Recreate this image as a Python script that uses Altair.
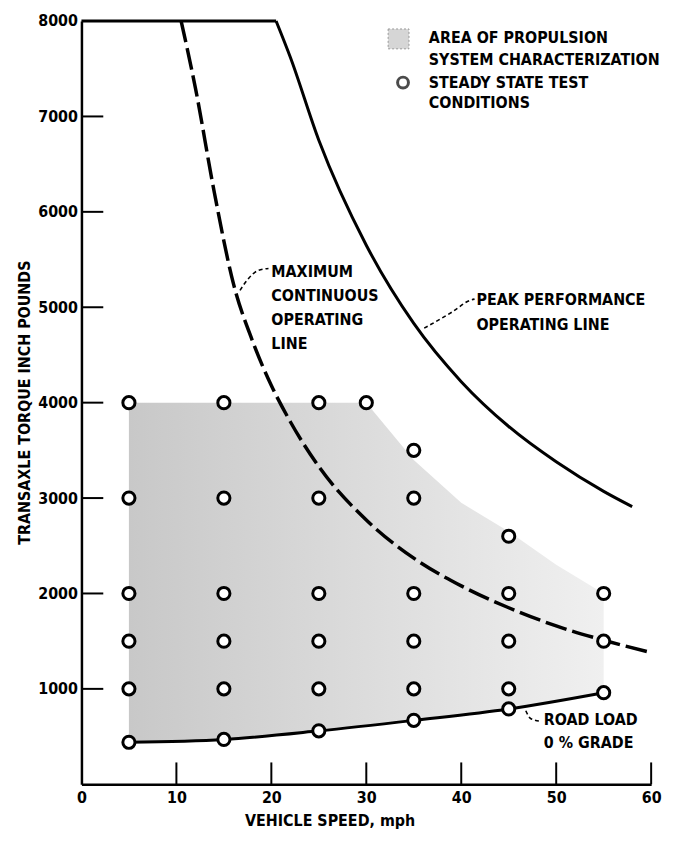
import altair as alt
import pandas as pd

FONT = "DejaVu Sans Condensed, Liberation Sans Narrow, DejaVu Sans, sans-serif"

# ---- data ----
peak_flat_speed = [0, 20.5]
peak_flat_torque = [8000, 8000]
peak_speed = [20.5, 22, 25, 30, 35, 40, 45, 50, 55, 58]
peak_torque = [8000, 7620, 6750, 5650, 4830, 4220, 3750, 3380, 3070, 2910]

cont_speed = [10.5, 12, 14, 16, 18, 20, 22, 25, 30, 35, 40, 45, 50, 55, 60]
cont_torque = [8000, 7300, 6200, 5250, 4650, 4180, 3800, 3330, 2770, 2370, 2080, 1850, 1660, 1510, 1380]

road_speed = [5, 15, 25, 35, 45, 55]
road_torque = [440, 470, 560, 670, 790, 960]

test_speed = [5, 5, 5, 5, 5,
              15, 15, 15, 15, 15,
              25, 25, 25, 25, 25,
              30,
              35, 35, 35, 35, 35,
              45, 45, 45, 45,
              55, 55]
test_torque = [4000, 3000, 2000, 1500, 1000,
               4000, 3000, 2000, 1500, 1000,
               4000, 3000, 2000, 1500, 1000,
               4000,
               3500, 3000, 2000, 1500, 1000,
               2600, 2000, 1500, 1000,
               2000, 1500]

area_speed = [5, 15, 25, 30, 35, 40, 45, 50, 55]
area_upper = [4000, 4000, 4000, 4000, 3400, 2950, 2650, 2300, 2000]
area_lower = [440, 470, 560, 615, 670, 730, 790, 875, 960]

x_ticks = [0, 10, 20, 30, 40, 50, 60]
y_ticks = [1000, 2000, 3000, 4000, 5000, 6000, 7000, 8000]

# annotation labels (anchor in data units)
max_lines = ["MAXIMUM", "CONTINUOUS", "OPERATING", "LINE"]
max_x = 20.0
max_y = [5365, 5115, 4865, 4615]
peak_lines = ["PEAK PERFORMANCE", "OPERATING LINE"]
peak_x = 41.6
peak_y = [5073, 4813]
road_lines = ["ROAD LOAD", "0 % GRADE"]
road_x = 48.7
road_y = [677, 437]

# leader lines
lead_group = ["m", "m", "m", "m", "p", "p", "p", "p", "r", "r", "r"]
lead_x = [16.7, 17.6, 18.6, 19.7, 36.1, 39.0, 41.0, 41.4, 46.8, 47.3, 48.4]
lead_y = [5177, 5302, 5385, 5406, 4781, 4948, 5075, 5085, 771, 690, 660]

legend_text = ["AREA OF PROPULSION", "SYSTEM CHARACTERIZATION", "STEADY STATE TEST", "CONDITIONS"]

W, H = 574, 769
FS = 16
xs = alt.Scale(domain=[0, 60], nice=False)
ys = alt.Scale(domain=[0, 8000], nice=False)

X = lambda f: alt.X(f, type="quantitative", scale=xs,
                    axis=alt.Axis(values=x_ticks, ticks=False, grid=False, domainWidth=2.5,
                                  domainColor="black", labelFont=FONT, labelFontSize=FS,
                                  labelFontWeight="bold", labelColor="black", labelPadding=5,
                                  format="d",
                                  title="VEHICLE SPEED, mph", titleFont=FONT, titleFontSize=FS,
                                  titleFontWeight="bold", titleColor="black", titleX=250, titleY=37,
                                  titleBaseline="middle", titleAlign="center", labelFlush=False))
Y = lambda f: alt.Y(f, type="quantitative", scale=ys,
                    axis=alt.Axis(values=y_ticks, ticks=False, grid=False, domainWidth=2.5,
                                  domainColor="black", labelFont=FONT, labelFontSize=FS,
                                  labelFontWeight="bold", labelColor="black", labelPadding=4,
                                  format="d",
                                  title="TRANSAXLE TORQUE INCH POUNDS", titleFont=FONT, titleFontSize=FS,
                                  titleFontWeight="bold", titleColor="black", titleX=-57, titleY=384,
                                  titleAngle=-90, titleBaseline="middle", titleAlign="center",
                                  labelFlush=False))

area_df = pd.DataFrame({"s": area_speed, "lo": area_lower, "hi": area_upper})
grad = alt.Gradient(gradient="linear",
                    stops=[alt.GradientStop(offset=0, color="#c8c8c8"),
                           alt.GradientStop(offset=1, color="#f0f0f0")],
                    x1=0, x2=1, y1=0, y2=0)
area = alt.Chart(area_df).mark_area(color=grad, interpolate="linear").encode(
    x=X("s"), y=Y("lo"), y2="hi")

peak_df = pd.DataFrame({
    "s": peak_flat_speed + peak_speed,
    "t": peak_flat_torque + peak_torque,
    "seg": ["flat"] * len(peak_flat_speed) + ["curve"] * len(peak_speed),
})
peak = alt.Chart(peak_df).mark_line(
    color="black", strokeWidth=3, interpolate="monotone").encode(x=X("s"), y=Y("t"), detail="seg:N")

cont = alt.Chart(pd.DataFrame({"s": cont_speed, "t": cont_torque})).mark_line(
    color="black", strokeWidth=3.5, strokeDash=[22, 6], interpolate="monotone").encode(x=X("s"), y=Y("t"))

road = alt.Chart(pd.DataFrame({"s": road_speed, "t": road_torque})).mark_line(
    color="black", strokeWidth=3, interpolate="monotone").encode(x=X("s"), y=Y("t"))

pts_df = pd.DataFrame({"s": test_speed + road_speed, "t": test_torque + road_torque})
pts = alt.Chart(pts_df).mark_point(shape="circle", size=150, filled=False, fill="white",
                                   fillOpacity=1, stroke="black", strokeWidth=3, opacity=1).encode(
    x=X("s"), y=Y("t"))

ytick_df = pd.DataFrame({"t": y_ticks[:-1]})
yt = alt.Chart(ytick_df).mark_rule(color="black", strokeWidth=2).encode(
    y=Y("t"), x=alt.value(0), x2=alt.value(22))
xtick_df = pd.DataFrame({"s": x_ticks[1:]})
xt = alt.Chart(xtick_df).mark_rule(color="black", strokeWidth=2).encode(
    x=X("s"), y=alt.value(H), y2=alt.value(H - 22))

lab_df = pd.DataFrame({
    "s": [max_x] * 4 + [peak_x] * 2 + [road_x] * 2,
    "t": max_y + peak_y + road_y,
    "txt": max_lines + peak_lines + road_lines,
})
labels = alt.Chart(lab_df).mark_text(align="left", baseline="middle", font=FONT, fontSize=FS,
                                     fontWeight="bold", color="black").encode(
    x=X("s"), y=Y("t"), text="txt:N")

lead_df = pd.DataFrame({"g": lead_group, "s": lead_x, "t": lead_y, "o": list(range(len(lead_x)))})
leaders = alt.Chart(lead_df).mark_line(color="black", strokeWidth=1.6, strokeDash=[4, 3],
                                       interpolate="monotone").encode(
    x=X("s"), y=Y("t"), detail="g:N", order="o:Q")

# legend (pixel layout)
leg_txt_df = pd.DataFrame({"px": [350] * 4, "py": [17, 39, 62, 83], "txt": legend_text})
leg_txt = alt.Chart(leg_txt_df).mark_text(align="left", baseline="middle", font=FONT, fontSize=FS,
                                          fontWeight="bold", color="black").encode(
    x=alt.X("px:Q", scale=None), y=alt.Y("py:Q", scale=None), text="txt:N")
leg_sq = alt.Chart(pd.DataFrame({"a": [1]})).mark_rect(fill="#d6d6d6", stroke="#999999",
                                                       strokeWidth=1, strokeDash=[2, 2]).encode(
    x=alt.value(309), x2=alt.value(330), y=alt.value(8), y2=alt.value(28))
leg_pt = alt.Chart(pd.DataFrame({"a": [1]})).mark_point(shape="circle", size=120, filled=False,
                                                        stroke="black", strokeWidth=3).encode(
    x=alt.value(324), y=alt.value(62))

chart = alt.layer(area, peak, cont, road, leaders, yt, xt, pts, labels, leg_sq, leg_pt, leg_txt).properties(
    width=W, height=H,
    autosize=alt.AutoSizeParams(type="none"),
    padding={"left": 74, "top": 10, "right": 20, "bottom": 52},
    background="white",
).configure_view(stroke=None)

chart.save("out.html", embed_options={"renderer": "svg", "actions": False})
